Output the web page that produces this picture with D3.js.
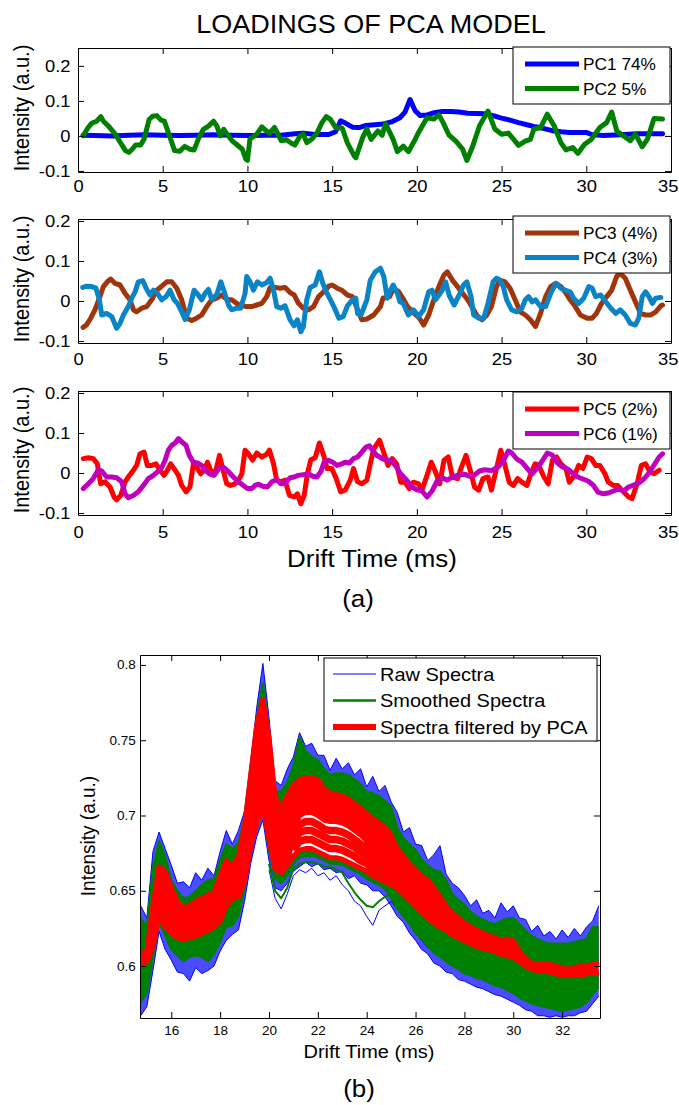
<!DOCTYPE html>
<html>
<head>
<meta charset="utf-8">
<script src="https://cdn.jsdelivr.net/npm/d3@7"></script>
<style>
  body { margin: 0; background: #fff; }
  svg text { font-family: "Liberation Sans", Arial, sans-serif; fill: #000; }
</style>
</head>
<body>
<div id="chart"></div>
<script>
// ---------- data: PCA loadings, [drift time ms, loading] ----------
var pc1 = [[0.3,0.002],[1,0.001],[2,0.0],[3,0.002],[4,0.003],[5,0.002],[6,0.001],[7,0.002],[8,0.003],[9,0.002],[10,0.001],[11,0.002],[12,0.002],[12.8,0.006],[13.3,0.008],[14,0.004],[14.8,0.004],[15.2,0.012],[15.5,0.043],[15.8,0.036],[16.2,0.025],[16.6,0.024],[17,0.03],[17.5,0.032],[18,0.034],[18.5,0.04],[19,0.052],[19.3,0.068],[19.6,0.104],[19.9,0.072],[20.2,0.058],[20.6,0.06],[21,0.066],[21.5,0.07],[22,0.07],[22.5,0.068],[23,0.065],[23.5,0.064],[24,0.063],[24.5,0.058],[25,0.051],[25.5,0.045],[26,0.038],[26.5,0.032],[27,0.026],[27.5,0.021],[28,0.015],[28.5,0.012],[29,0.01],[29.5,0.01],[30,0.01],[30.3,0.004],[31,0.001],[32,0.003],[33,0.006],[34,0.006],[34.5,0.006]];
var pc2 = [[0.3,0],[0.6,0.024],[0.8,0.036],[1.1,0.042],[1.35,0.055],[1.5,0.042],[1.8,0.028],[2.2,0.005],[2.5,-0.019],[2.8,-0.042],[3.0,-0.047],[3.2,-0.038],[3.4,-0.026],[3.7,-0.026],[3.9,-0.009],[4.2,0.047],[4.4,0.056],[4.65,0.058],[4.9,0.045],[5.1,0.042],[5.4,0],[5.7,-0.042],[6.0,-0.044],[6.3,-0.03],[6.6,-0.038],[6.85,-0.04],[7.1,-0.009],[7.4,0.019],[7.7,0.028],[8.0,0.042],[8.2,0.028],[8.4,0],[8.6,0.019],[8.8,0.005],[9.1,-0.014],[9.4,-0.026],[9.7,-0.038],[9.9,-0.066],[10.0,-0.07],[10.15,-0.009],[10.55,0.005],[10.85,0.026],[11.0,0.019],[11.3,0.008],[11.6,0.024],[11.8,0.005],[12.0,-0.014],[12.3,-0.011],[12.6,-0.021],[12.8,-0.026],[13.1,0],[13.3,0.005],[13.5,-0.019],[13.8,-0.009],[14.1,0.008],[14.4,0.038],[14.65,0.055],[14.9,0.047],[15.2,0.024],[15.6,0.022],[15.9,-0.02],[16.3,-0.057],[16.4,-0.062],[16.8,-0.005],[17.05,0.02],[17.3,-0.01],[17.7,0.014],[17.95,0.002],[18.15,0.035],[18.6,-0.01],[18.85,-0.045],[19.2,-0.029],[19.5,-0.045],[19.9,-0.01],[20.1,0.01],[20.6,0.052],[21.0,0.048],[21.3,0.06],[21.55,0.038],[21.9,0.002],[22.3,-0.015],[22.7,-0.038],[22.95,-0.07],[23.3,-0.029],[23.7,0.029],[24.2,0.071],[24.6,0.02],[25.0,0.005],[25.4,0.008],[25.8,-0.015],[26.0,-0.027],[26.4,-0.015],[26.7,-0.01],[26.9,0.019],[27.3,0.024],[27.7,0.062],[28.1,0.029],[28.5,-0.019],[28.8,-0.04],[29.2,-0.033],[29.5,-0.05],[29.9,-0.024],[30.3,-0.01],[30.8,0.024],[31.2,0.038],[31.5,0.068],[31.8,0.014],[32.2,0],[32.6,-0.014],[32.9,0.005],[33.3,-0.031],[33.6,-0.01],[34.0,0.05],[34.5,0.048]];
var pc3 = [[0.3,-0.066],[0.5,-0.06],[0.75,-0.043],[1.0,-0.022],[1.26,0.007],[1.5,0.036],[1.73,0.048],[1.93,0.055],[2.19,0.044],[2.48,0.04],[2.78,0.019],[3.07,0.003],[3.27,-0.022],[3.46,-0.027],[3.76,-0.018],[4.06,-0.014],[4.35,0.003],[4.65,0.027],[4.94,0.037],[5.24,0.048],[5.53,0.048],[5.83,0.032],[6.12,0.003],[6.42,-0.043],[6.71,-0.049],[7.0,-0.043],[7.3,-0.035],[7.6,-0.014],[7.9,0.003],[8.19,0.007],[8.48,0.015],[8.78,0.004],[9.07,0.003],[9.37,-0.006],[9.67,-0.012],[9.96,-0.014],[10.26,-0.014],[10.55,-0.01],[10.85,-0.006],[11.14,0.011],[11.34,0.034],[11.63,0.034],[11.93,0.032],[12.22,0.034],[12.52,0.021],[12.76,0.015],[13.0,-0.005],[13.3,-0.018],[13.6,-0.022],[13.9,-0.014],[14.2,0.011],[14.5,0.023],[14.8,0.037],[15.0,0.04],[15.3,0.032],[15.6,0.026],[15.9,0.015],[16.2,0.011],[16.5,-0.022],[16.75,-0.047],[17.05,-0.045],[17.45,-0.035],[17.85,-0.014],[18.0,0.007],[18.4,0.011],[18.6,0.03],[18.9,0.025],[19.2,0.005],[19.45,-0.014],[19.85,-0.031],[20.15,-0.043],[20.4,-0.06],[20.7,-0.035],[21.0,0.003],[21.3,0.036],[21.6,0.065],[21.8,0.073],[22.1,0.052],[22.4,0.036],[22.7,0.019],[23.0,0.003],[23.3,-0.018],[23.55,-0.037],[23.85,-0.047],[24.1,-0.037],[24.4,-0.014],[24.7,0.036],[24.9,0.052],[25.2,0.048],[25.5,0.032],[25.8,0.003],[26.1,-0.027],[26.4,-0.035],[26.7,-0.047],[27.0,-0.064],[27.3,-0.031],[27.6,0.011],[27.9,0.036],[28.2,0.044],[28.5,0.036],[28.75,0.023],[29.05,0.003],[29.35,-0.014],[29.65,-0.035],[30.05,-0.043],[30.35,-0.043],[30.6,-0.031],[30.9,-0.006],[31.2,0.011],[31.5,0.027],[31.8,0.062],[32.0,0.069],[32.3,0.057],[32.6,0.027],[32.9,-0.002],[33.2,-0.031],[33.5,-0.035],[33.8,-0.035],[34.1,-0.027],[34.4,-0.012],[34.5,-0.01]];
var pc4 = [[0.28,0.034],[0.51,0.037],[0.81,0.036],[1.06,0.032],[1.26,0.003],[1.4,-0.035],[1.69,-0.031],[1.99,-0.039],[2.28,-0.068],[2.48,-0.056],[2.68,-0.035],[2.97,-0.014],[3.17,0.007],[3.37,0.023],[3.56,0.048],[3.82,0.051],[4.02,0.032],[4.25,0.015],[4.45,0.027],[4.69,0.019],[4.94,0.003],[5.2,0.011],[5.43,0.027],[5.67,0.003],[5.87,-0.006],[6.12,-0.027],[6.32,-0.046],[6.57,-0.022],[6.85,0.027],[7.1,0.015],[7.3,0.003],[7.5,0.019],[7.7,0.029],[7.9,0.003],[8.2,0.017],[8.43,0.048],[8.63,0.023],[8.9,-0.012],[9.07,-0.022],[9.37,-0.018],[9.6,-0.018],[9.86,0.019],[9.96,0.061],[10.16,0.048],[10.35,0.027],[10.59,0.048],[10.85,0.04],[11.14,0.046],[11.34,0.057],[11.54,0.027],[11.73,-0.014],[11.97,-0.018],[12.22,-0.012],[12.52,-0.047],[12.76,-0.062],[12.95,-0.047],[13.15,-0.077],[13.3,-0.064],[13.5,0.003],[13.7,0.034],[14.0,0.04],[14.25,0.073],[14.45,0.044],[14.7,0.019],[14.9,0.003],[15.1,-0.014],[15.4,-0.043],[15.65,-0.039],[15.9,-0.012],[16.2,0.003],[16.4,0.007],[16.5,-0.031],[16.7,-0.035],[17.05,0.003],[17.25,0.052],[17.55,0.073],[17.85,0.082],[18.05,0.061],[18.25,0.007],[18.45,0.027],[18.6,0.04],[18.85,0.019],[19.0,-0.002],[19.2,-0.006],[19.5,-0.035],[19.8,-0.022],[20.1,-0.039],[20.4,-0.022],[20.7,0.023],[20.9,0.027],[21.1,0.003],[21.3,0.015],[21.5,0.027],[21.7,0.048],[21.9,0.015],[22.2,-0.01],[22.5,0.015],[22.75,0.04],[22.95,0.048],[23.2,0.011],[23.35,-0.035],[23.65,-0.043],[23.95,-0.043],[24.2,-0.006],[24.5,0.048],[24.7,0.057],[24.9,0.052],[25.1,0.036],[25.3,0.003],[25.6,-0.022],[25.9,-0.027],[26.2,-0.018],[26.4,0.003],[26.6,0.011],[26.8,-0.002],[27.0,0.003],[27.3,-0.014],[27.6,-0.014],[27.9,0.019],[28.2,0.044],[28.5,0.032],[28.75,0.027],[29.05,0.023],[29.25,0.007],[29.55,-0.006],[29.85,0.007],[30.15,0.036],[30.35,0.032],[30.55,0.011],[30.85,0.015],[31.15,-0.002],[31.45,-0.018],[31.75,-0.031],[32.0,-0.022],[32.3,-0.035],[32.6,-0.056],[32.9,-0.06],[33.1,-0.043],[33.3,0.011],[33.5,0.023],[33.7,0.011],[33.9,-0.006],[34.1,0.007],[34.4,0.009]];
var pc5 = [[0.31,0.036],[0.61,0.038],[0.9,0.036],[1.14,0.023],[1.34,-0.027],[1.59,-0.022],[1.89,-0.035],[2.13,-0.06],[2.28,-0.067],[2.52,-0.056],[2.78,-0.022],[2.97,-0.01],[3.27,0.007],[3.46,0.019],[3.66,0.048],[3.9,0.052],[4.09,0.019],[4.35,0.019],[4.6,0.023],[4.84,0.007],[5.08,-0.006],[5.28,0.007],[5.47,0.023],[5.73,0.007],[5.93,-0.006],[6.12,-0.031],[6.38,-0.047],[6.61,-0.035],[6.81,0.023],[7.0,0.015],[7.24,-0.002],[7.44,0.007],[7.64,0.027],[7.83,0.007],[8.09,-0.002],[8.35,0.044],[8.54,0.011],[8.78,-0.027],[9.0,-0.031],[9.27,-0.027],[9.47,-0.018],[9.67,-0.002],[9.86,0.057],[10.06,0.048],[10.3,0.032],[10.55,0.05],[10.85,0.04],[11.14,0.047],[11.3,0.057],[11.54,0.023],[11.73,-0.018],[11.97,-0.022],[12.22,-0.018],[12.48,-0.056],[12.76,-0.06],[12.95,-0.052],[13.15,-0.077],[13.35,-0.056],[13.54,-0.002],[13.74,0.033],[14.0,0.038],[14.25,0.075],[14.5,0.044],[14.7,0.011],[14.98,0.011],[15.24,-0.014],[15.5,-0.047],[15.77,-0.043],[16.07,-0.018],[16.26,0.011],[16.5,-0.022],[16.75,-0.027],[17.05,-0.018],[17.2,0.013],[17.45,0.06],[17.8,0.082],[18.0,0.057],[18.3,0.019],[18.55,0.036],[18.8,0.023],[19.05,-0.023],[19.3,-0.023],[19.55,-0.039],[19.8,-0.023],[20.1,-0.027],[20.3,-0.043],[20.6,-0.006],[20.85,0.027],[21.1,0.003],[21.35,-0.027],[21.6,0.032],[21.85,0.04],[22.1,-0.01],[22.4,-0.014],[22.6,0.011],[22.9,0.044],[23.15,0.007],[23.4,-0.035],[23.65,-0.043],[23.9,-0.014],[24.2,-0.01],[24.4,-0.043],[24.7,0.011],[24.95,0.057],[25.2,0.019],[25.45,-0.023],[25.7,-0.031],[25.95,-0.014],[26.2,-0.023],[26.5,-0.031],[26.7,-0.006],[26.98,0.023],[27.2,0.019],[27.5,-0.01],[27.75,-0.027],[28.0,0.032],[28.25,0.04],[28.5,0.023],[28.8,0.011],[29.0,-0.023],[29.3,-0.006],[29.55,0.019],[29.8,0.011],[30.05,0.04],[30.3,0.036],[30.55,0.019],[30.8,0.019],[31.1,-0.002],[31.3,-0.023],[31.6,-0.031],[31.85,-0.031],[32.1,-0.043],[32.5,-0.06],[32.7,-0.064],[33.0,-0.027],[33.25,0.019],[33.5,0.023],[33.75,0.003],[34.0,-0.002],[34.3,0.007]];
var pc6 = [[0.31,-0.039],[0.61,-0.027],[0.9,-0.014],[1.2,0.008],[1.4,0.005],[1.69,-0.01],[1.99,-0.01],[2.28,-0.012],[2.58,-0.022],[2.78,-0.052],[2.97,-0.062],[3.27,-0.056],[3.56,-0.047],[3.86,-0.031],[4.15,-0.014],[4.45,-0.006],[4.69,0.003],[4.94,0.013],[5.14,0.032],[5.33,0.057],[5.53,0.069],[5.73,0.075],[5.93,0.086],[6.12,0.078],[6.38,0.069],[6.57,0.044],[6.81,0.027],[7.05,0.025],[7.3,0.019],[7.5,0.007],[7.76,-0.002],[8.03,-0.006],[8.35,0.013],[8.63,0.013],[8.88,0.003],[9.17,-0.01],[9.47,-0.022],[9.76,-0.031],[10.0,-0.039],[10.26,-0.039],[10.45,-0.031],[10.65,-0.028],[10.9,-0.033],[11.18,-0.035],[11.44,-0.022],[11.73,-0.017],[11.97,-0.027],[12.22,-0.025],[12.52,-0.012],[12.76,-0.01],[13.0,-0.006],[13.3,-0.004],[13.6,-0.002],[13.86,-0.008],[14.1,-0.01],[14.33,0.003],[14.53,0.027],[14.78,0.032],[15.04,0.027],[15.28,0.019],[15.57,0.023],[15.77,0.027],[16.02,0.025],[16.26,0.036],[16.5,0.04],[16.75,0.052],[17.0,0.065],[17.2,0.068],[17.6,0.045],[18.0,0.035],[18.5,0.03],[18.8,0.015],[19.0,0.0],[19.4,-0.018],[19.7,-0.035],[20.0,-0.042],[20.3,-0.045],[20.6,-0.06],[20.9,-0.045],[21.2,-0.02],[21.5,-0.012],[21.8,-0.018],[22.1,-0.01],[22.5,-0.005],[22.8,-0.003],[23.1,-0.008],[23.4,-0.005],[23.7,0.005],[24.0,0.008],[24.4,0.006],[24.8,0.015],[25.1,0.03],[25.4,0.055],[25.6,0.05],[25.9,0.035],[26.2,0.027],[26.5,0.012],[26.8,-0.002],[27.1,0.012],[27.4,0.03],[27.7,0.05],[28.0,0.045],[28.3,0.025],[28.6,0.015],[28.9,0.01],[29.2,0.0],[29.5,-0.01],[29.8,-0.015],[30.1,-0.02],[30.4,-0.03],[30.7,-0.048],[31.0,-0.052],[31.3,-0.05],[31.6,-0.045],[31.9,-0.04],[32.2,-0.045],[32.5,-0.035],[32.8,-0.03],[33.1,-0.025],[33.4,-0.015],[33.7,0.0],[34.0,0.02],[34.3,0.04],[34.5,0.048]];

var pcNames = ["PC1 74%", "PC2 5%", "PC3 (4%)", "PC4 (3%)", "PC5 (2%)", "PC6 (1%)"];
var driftTicksA = [0, 5, 10, 15, 20, 25, 30, 35];
var loadTicks = [-0.1, 0, 0.1, 0.2];

// ---------- data: spectra (b), sampled every 0.25 ms from 14.75 to 33.5 ----------
var driftB = d3.range(14.75, 33.51, 0.25);
var blueHi = [0.640,0.632,0.676,0.689,0.678,0.667,0.655,0.656, 0.652,0.662,0.657,0.665,0.660,0.676,0.690,0.681,
  0.690,0.703,0.736,0.772,0.801,0.765,0.723,0.720, 0.731,0.739,0.755,0.746,0.748,0.740,0.740,0.730,
  0.738,0.731,0.735,0.727,0.731,0.719,0.726,0.716, 0.720,0.709,0.702,0.689,0.692,0.681,0.680,0.670,
  0.674,0.680,0.661,0.655,0.652,0.647,0.640,0.644, 0.635,0.637,0.632,0.642,0.636,0.640,0.632,0.631,
  0.623,0.627,0.620,0.623,0.618,0.624,0.619,0.625, 0.620,0.626,0.630,0.640];
var blueLo = [0.567,0.573,0.597,0.623,0.611,0.604,0.596,0.595, 0.590,0.599,0.595,0.597,0.600,0.610,0.617,0.621,
  0.624,0.643,0.668,0.686,0.697,0.670,0.652,0.650, 0.655,0.663,0.666,0.669,0.666,0.668,0.664,0.665,
  0.662,0.663,0.658,0.660,0.655,0.654,0.650,0.650, 0.646,0.640,0.633,0.629,0.622,0.617,0.611,0.608,
  0.602,0.600,0.596,0.595,0.591,0.590,0.588,0.586, 0.585,0.583,0.581,0.580,0.578,0.576,0.574,0.571,
  0.570,0.567,0.567,0.566,0.567,0.566,0.567,0.567, 0.569,0.570,0.575,0.580];
var greenHi = [0.632,0.626,0.665,0.683,0.673,0.657,0.650,0.645, 0.646,0.650,0.654,0.657,0.658,0.670,0.681,0.678,
  0.682,0.698,0.728,0.765,0.788,0.758,0.716,0.716, 0.722,0.733,0.752,0.743,0.739,0.737,0.731,0.727,
  0.728,0.728,0.727,0.724,0.721,0.716,0.715,0.713, 0.710,0.706,0.692,0.685,0.681,0.677,0.671,0.667,
  0.664,0.663,0.657,0.648,0.644,0.641,0.636,0.633, 0.631,0.629,0.628,0.630,0.632,0.632,0.628,0.624,
  0.620,0.618,0.616,0.615,0.615,0.615,0.615,0.616, 0.617,0.618,0.626,0.626];
var greenLo = [0.576,0.582,0.605,0.630,0.620,0.611,0.607,0.603, 0.606,0.607,0.606,0.603,0.608,0.616,0.626,0.627,
  0.633,0.651,0.676,0.692,0.703,0.677,0.658,0.655, 0.660,0.668,0.672,0.673,0.673,0.672,0.670,0.668,
  0.668,0.667,0.665,0.663,0.661,0.658,0.656,0.654, 0.651,0.645,0.638,0.633,0.628,0.622,0.618,0.613,
  0.609,0.606,0.603,0.600,0.598,0.595,0.594,0.592, 0.591,0.589,0.587,0.586,0.584,0.582,0.579,0.577,
  0.575,0.574,0.573,0.572,0.571,0.570,0.571,0.572, 0.573,0.576,0.581,0.586];
var redHi = [0.608,0.610,0.640,0.666,0.663,0.652,0.643,0.639, 0.640,0.643,0.645,0.647,0.649,0.660,0.670,0.666,
  0.673,0.693,0.727,0.760,0.777,0.752,0.712,0.705, 0.713,0.720,0.724,0.725,0.725,0.724,0.718,0.715,
  0.714,0.713,0.711,0.708,0.705,0.701,0.698,0.695, 0.692,0.687,0.678,0.673,0.668,0.664,0.660,0.657,
  0.652,0.646,0.640,0.635,0.632,0.629,0.626,0.624, 0.622,0.620,0.619,0.617,0.618,0.617,0.610,0.605,
  0.602,0.6015,0.601,0.601,0.600,0.599,0.598,0.599, 0.600,0.600,0.601,0.601];
var redLo = [0.602,0.603,0.613,0.634,0.626,0.622,0.619,0.618, 0.619,0.620,0.622,0.624,0.626,0.630,0.640,0.645,
  0.646,0.657,0.680,0.695,0.706,0.685,0.665,0.662, 0.667,0.673,0.677,0.678,0.678,0.676,0.674,0.672,
  0.672,0.671,0.669,0.667,0.665,0.663,0.660,0.658, 0.656,0.654,0.652,0.648,0.644,0.640,0.636,0.632,
  0.629,0.626,0.624,0.621,0.619,0.617,0.615,0.613, 0.612,0.611,0.610,0.608,0.607,0.606,0.603,0.600,
  0.598,0.597,0.597,0.596,0.595,0.594,0.594,0.594, 0.594,0.595,0.595,0.595];
// lower edge of the solid part of the filtered band (separate spectra show below it around 21-25 ms)
var redInner = [0.602,0.603,0.613,0.634,0.626,0.622,0.619,0.618, 0.619,0.620,0.622,0.624,0.626,0.630,0.640,0.645,
  0.646,0.657,0.680,0.695,0.706,0.685,0.665,0.662, 0.667,0.688,0.700,0.702,0.702,0.700,0.697,0.696,
  0.696,0.695,0.693,0.690,0.687,0.683,0.678,0.672, 0.664,0.656,0.652,0.648,0.644,0.640,0.636,0.632,
  0.629,0.626,0.624,0.621,0.619,0.617,0.615,0.613, 0.612,0.611,0.610,0.608,0.607,0.606,0.603,0.600,
  0.598,0.597,0.597,0.596,0.595,0.594,0.594,0.594, 0.594,0.595,0.595,0.595];

// individual filtered spectra visible in the band gap, 21-25 ms
var gapX = [21.0,21.25,21.5,21.75,22.0,22.25,22.5,22.75,23.0,23.25,23.5,23.75,24.0,24.25,24.5,24.75,25.0];
var redA = [0.684,0.694,0.696,0.696,0.694,0.691,0.690,0.690,0.689,0.687,0.684,0.681,0.678,0.673,0.668,0.662,0.6555];
var redB = [0.680,0.689,0.690,0.690,0.688,0.686,0.684,0.684,0.683,0.681,0.679,0.676,0.673,0.669,0.665,0.660,0.655];
var redC = [0.677,0.683,0.684,0.684,0.682,0.680,0.678,0.678,0.677,0.675,0.673,0.670,0.668,0.664,0.661,0.658,0.6545];

// lowest spectrum (raw and smoothed), 20.0-26.5 ms
var outX = [20.0,20.25,20.5,20.75,21.0,21.25,21.5,21.75,22.0,22.25,22.5,22.75,23.0,23.25,23.5,23.75,24.0,24.25,24.5,24.75,25.0,25.25,25.5,25.75,26.0,26.25,26.5];
var greenOut = [0.668,0.650,0.645,0.652,0.665,0.668,0.669,0.669,0.668,0.666,0.666,0.664,0.662,0.655,0.649,0.644,0.640,0.639,0.643,0.646,0.648,0.645,0.643,0.636,0.628,0.622,0.617];
var blueOut = [0.664,0.645,0.638,0.648,0.660,0.664,0.662,0.665,0.660,0.662,0.657,0.660,0.654,0.650,0.643,0.640,0.633,0.627,0.637,0.640,0.643,0.638,0.637,0.630,0.622,0.617,0.612];

var specNames = ["Raw Spectra", "Smoothed Spectra", "Spectra filtered by PCA"];
var driftTicksB = [16, 18, 20, 22, 24, 26, 28, 30, 32];
var intensTicksB = [0.6, 0.65, 0.7, 0.75, 0.8];

// ---------- drawing ----------
var pcColors = ["#0000ff", "#008000", "#a0350b", "#0a84c6", "#ff0000", "#bf00bf"];
var specColors = ["#0000ff", "#008000", "#ff0000"];
var SX = 1.08; // the original glyphs are slightly wide

var svg = d3.select("#chart").append("svg")
  .attr("width", 679)
  .attr("height", 1105);

function label(parent, x, y, str, size, anchor, rot) {
  return parent.append("text")
    .attr("transform", "translate(" + x + "," + y + ") scale(" + SX + ",1)" + (rot ? " rotate(-90)" : ""))
    .attr("text-anchor", anchor || "middle")
    .attr("font-size", size)
    .text(str);
}

function boxAxes(g, x, y, xt, yt, fs, padX, padY) {
  var x0 = x.range()[0], x1 = x.range()[1], y0 = y.range()[1], y1 = y.range()[0];
  var fmt = function(d) { return String(d); };
  var b = g.append("g").attr("transform", "translate(0," + y1 + ")")
    .call(d3.axisBottom(x).tickValues(xt).tickFormat(fmt).tickSizeInner(-6).tickSizeOuter(0).tickPadding(padX));
  var t = g.append("g").attr("transform", "translate(0," + y0 + ")")
    .call(d3.axisTop(x).tickValues(xt).tickFormat("").tickSizeInner(-6).tickSizeOuter(0));
  var l = g.append("g").attr("transform", "translate(" + x0 + ",0)")
    .call(d3.axisLeft(y).tickValues(yt).tickFormat(fmt).tickSizeInner(-6).tickSizeOuter(0).tickPadding(padY));
  var r = g.append("g").attr("transform", "translate(" + x1 + ",0)")
    .call(d3.axisRight(y).tickValues(yt).tickFormat("").tickSizeInner(-6).tickSizeOuter(0));
  [b, t, l, r].forEach(function(a) {
    a.attr("font-family", null).attr("font-size", fs);
    a.selectAll("text").attr("transform", "scale(" + SX + ",1)");
    a.selectAll("path, line").attr("stroke", "#000");
  });
  return b;
}

// ----- (a) loadings -----
label(svg, 371, 33, "LOADINGS OF PCA MODEL", 25);

var xA = d3.scaleLinear().domain([0, 35]).range([78, 671]);
var panels = [
  { top: 48,  bottom: 172, dom: [-0.103, 0.251], pcs: [pc1, pc2], idx: [0, 1], legTop: 47,  pad: 8,  labY: 108 },
  { top: 219, bottom: 343, dom: [-0.105, 0.205], pcs: [pc3, pc4], idx: [2, 3], legTop: 216, pad: 10, labY: 279 },
  { top: 391, bottom: 515, dom: [-0.105, 0.205], pcs: [pc5, pc6], idx: [4, 5], legTop: 392, pad: 11, labY: 450 }
];

panels.forEach(function(p) {
  var y = d3.scaleLinear().domain(p.dom).range([p.bottom, p.top]);
  var g = svg.append("g");
  var line = d3.line().x(function(d) { return xA(d[0]); }).y(function(d) { return y(d[1]); });

  p.pcs.forEach(function(s, i) {
    g.append("path")
      .datum(s)
      .attr("fill", "none")
      .attr("stroke", pcColors[p.idx[i]])
      .attr("stroke-width", 5)
      .attr("stroke-linejoin", "round")
      .attr("stroke-linecap", "round")
      .attr("d", line);
  });

  var bx = boxAxes(g, xA, y, driftTicksA, loadTicks, 17, p.pad, 7);
  // last label sits at the page edge: nudge it in a little
  bx.selectAll(".tick text").filter(function(d) { return d === 35; }).attr("x", -3);

  label(g, 29, p.labY, "Intensity (a.u.)", 20, "middle", true);

  var leg = g.append("g");
  leg.append("rect")
    .attr("x", 513).attr("y", p.legTop)
    .attr("width", 157).attr("height", 57)
    .attr("fill", "#fff").attr("stroke", "#000").attr("stroke-width", 1);
  p.idx.forEach(function(k, i) {
    var ly = p.legTop + 17 + i * 24.5;
    leg.append("line")
      .attr("x1", 525).attr("x2", 579).attr("y1", ly).attr("y2", ly)
      .attr("stroke", pcColors[k]).attr("stroke-width", 5);
    label(leg, 583, ly + 6, pcNames[k], 16, "start");
  });
});

label(svg, 372, 567, "Drift Time (ms)", 24);
label(svg, 358, 607, "(a)", 24);

// ----- (b) spectra -----
var xB = d3.scaleLinear().domain([14.72, 33.55]).range([140, 600]);
var yB = d3.scaleLinear().domain([0.5655, 0.8066]).range([1018, 655]);

svg.append("clipPath").attr("id", "clipB")
  .append("rect").attr("x", 140).attr("y", 655).attr("width", 460).attr("height", 363);

var gb = svg.append("g");
var plotB = gb.append("g").attr("clip-path", "url(#clipB)");
var idxB = d3.range(driftB.length);

function band(lo, hi) {
  return d3.area()
    .x(function(i) { return xB(driftB[i]); })
    .y0(function(i) { return yB(lo[i]); })
    .y1(function(i) { return yB(hi[i]); });
}
function edge(v) {
  return d3.line().x(function(i) { return xB(driftB[i]); }).y(function(i) { return yB(v[i]); });
}
function subLine(xs) {
  return d3.line().x(function(d, i) { return xB(xs[i]); }).y(function(d) { return yB(d); });
}

// raw spectra: noisy fringe
plotB.append("path").datum(idxB).attr("fill", specColors[0]).attr("fill-opacity", 0.7).attr("d", band(redHi, blueHi));
plotB.append("path").datum(idxB).attr("fill", specColors[0]).attr("fill-opacity", 0.7).attr("d", band(blueLo, redLo));
[blueHi, blueLo].forEach(function(v) {
  plotB.append("path").datum(idxB).attr("fill", "none").attr("stroke", specColors[0]).attr("stroke-width", 1).attr("d", edge(v));
});
plotB.append("path").datum(blueOut).attr("fill", "none").attr("stroke", specColors[0]).attr("stroke-width", 1).attr("d", subLine(outX));

// smoothed spectra
plotB.append("path").datum(idxB).attr("fill", specColors[1]).attr("d", band(redHi, greenHi));
plotB.append("path").datum(idxB).attr("fill", specColors[1]).attr("d", band(greenLo, redLo));
[greenHi, greenLo].forEach(function(v) {
  plotB.append("path").datum(idxB).attr("fill", "none").attr("stroke", specColors[1]).attr("stroke-width", 2).attr("stroke-linejoin", "round").attr("d", edge(v));
});
plotB.append("path").datum(greenOut).attr("fill", "none").attr("stroke", specColors[1]).attr("stroke-width", 2).attr("stroke-linejoin", "round").attr("d", subLine(outX));

// spectra filtered by PCA
plotB.append("path").datum(idxB).attr("fill", specColors[2]).attr("d", band(redInner, redHi));
[redHi, redInner, redLo].forEach(function(v) {
  plotB.append("path").datum(idxB).attr("fill", "none").attr("stroke", specColors[2]).attr("stroke-width", 5).attr("stroke-linejoin", "round").attr("d", edge(v));
});
[redA, redB, redC].forEach(function(v) {
  plotB.append("path").datum(v).attr("fill", "none").attr("stroke", specColors[2]).attr("stroke-width", 7.5).attr("stroke-linejoin", "round").attr("d", subLine(gapX));
});

boxAxes(gb, xB, yB, driftTicksB, intensTicksB, 12.5, 8, 4);

label(gb, 95, 836, "Intensity (a.u.)", 19, "middle", true);
label(gb, 369, 1058, "Drift Time (ms)", 18.5);
label(svg, 359, 1097, "(b)", 24);

var legB = gb.append("g");
legB.append("rect")
  .attr("x", 324).attr("y", 658).attr("width", 273).attr("height", 83)
  .attr("fill", "#fff").attr("stroke", "#000").attr("stroke-width", 1);
[1, 2.5, 6].forEach(function(w, i) {
  var ly = 674 + i * 26.5;
  legB.append("line")
    .attr("x1", 333).attr("x2", 376).attr("y1", ly).attr("y2", ly)
    .attr("stroke", specColors[i]).attr("stroke-width", w);
  label(legB, 380, ly + 6.5, specNames[i], 18.5, "start");
});
</script>
</body>
</html>
